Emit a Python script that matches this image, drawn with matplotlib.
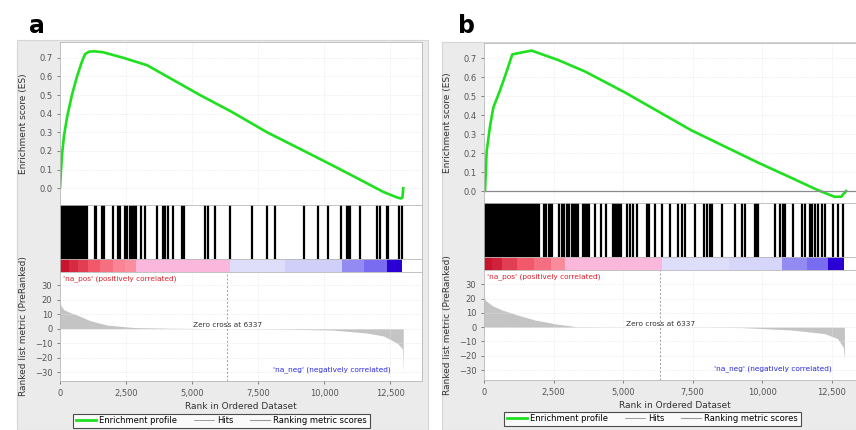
import matplotlib.pyplot as plt
from matplotlib.colors import LinearSegmentedColormap
from matplotlib.lines import Line2D
from matplotlib.patches import Rectangle

# running enrichment score, panel a
es_rank_a = [0, 40, 76, 150, 265, 450, 644, 830, 947, 1100, 1300, 1630, 2400, 3300, 4300, 5300,
             6500, 7840, 9100, 10350, 11300, 12240, 12500, 12770, 12900, 12960, 12990]
es_a = [0.0, 0.1, 0.18, 0.28, 0.38, 0.5, 0.6, 0.68, 0.72, 0.733, 0.735, 0.73, 0.70, 0.66, 0.58,
        0.5, 0.41, 0.3, 0.21, 0.12, 0.05, -0.02, -0.035, -0.05, -0.055, -0.05, 0.0]

# running enrichment score, panel b
es_rank_b = [0, 36, 96, 215, 335, 575, 814, 1017, 1352, 1710, 2670, 3630, 5060, 7455,
             9850, 11045, 12000, 12600, 12840, 13020]
es_b = [0.0, 0.0, 0.21, 0.34, 0.44, 0.53, 0.63, 0.72, 0.73, 0.74, 0.69, 0.63, 0.52, 0.32,
        0.15, 0.07, 0.005, -0.03, -0.03, 0.0]

# gene set members in the ranked list
hits_a = [0, 60, 120, 180, 240, 300, 360, 420, 480, 540, 600, 660, 720, 780, 840, 900, 960, 1030,
          1314, 1377, 1605, 1668, 2009, 2198, 2261, 2450, 2552, 2640, 2729, 2805, 2893, 3082,
          3234, 3689, 3903, 3992, 4093, 4282, 4623, 4686, 5482, 5583, 5861, 6429, 7250, 7819,
          8135, 9248, 9779, 10133, 10638, 10853, 10916, 10979, 11358, 11990, 12117, 12370,
          12432, 12811, 12962]
hits_b = [50, 110, 170, 230, 290, 350, 410, 470, 530, 590, 650, 710, 770, 830, 890, 950, 1010,
          1065, 1130, 1200, 1270, 1340, 1385, 1460, 1530, 1600, 1670, 1740, 1780, 1880, 1930,
          1987, 2150, 2220, 2330, 2400, 2460, 2690, 2790, 2861, 2990, 3060, 3160, 3230, 3300,
          3380, 3550, 3620, 3700, 3782, 3998, 4213, 4381, 4640, 4710, 4780, 4850, 4920, 5140,
          5250, 5374, 5500, 5853, 5949, 6152, 6392, 6691, 6990, 7110, 7230, 7589, 7924, 8008,
          8128, 8187, 8546, 9025, 9265, 9384, 9750, 9800, 9860, 10462, 10641, 10761, 10821,
          11120, 11419, 11539, 11719, 11778, 11898, 12018, 12137, 12257, 12556, 12735, 12915]

# heat bar under the hits: block edges (rank) and block levels (-1..1)
bar_edges_a = [0, 350, 700, 1060, 1500, 2000, 2450, 2890, 6430, 8500, 10660, 11500, 12360, 12960]
bar_levels_a = [1.0, 0.92, 0.85, 0.75, 0.68, 0.62, 0.58, 0.3, -0.2, -0.28, -0.55, -0.65, -1.0]
bar_edges_b = [0, 300, 650, 1200, 1800, 2400, 2920, 6390, 8800, 10700, 11600, 12380, 12950]
bar_levels_b = [1.0, 0.95, 0.85, 0.75, 0.68, 0.6, 0.3, -0.2, -0.25, -0.55, -0.65, -1.0]

# ranked list metric
metric_rank_a = [0, 30, 150, 400, 700, 1140, 1780, 2780, 4200, 6337, 8500, 10350, 11620,
                 12240, 12770, 12960, 12990]
metric_a = [19, 16, 13, 11, 9, 5.5, 2.5, 0.8, 0.3, 0, -0.3, -1, -3, -5, -10, -14, -30]
metric_rank_b = [0, 40, 300, 650, 1220, 1830, 2660, 3240, 3300, 6337, 9260, 11060, 12240,
                 12710, 12920, 12960]
metric_b = [24, 19, 15, 12, 8.4, 5, 2, 0.6, 0.3, 0, -0.3, -2, -4.5, -8, -14, -23]

zero_cross = 6337
x_ticks = [0, 2500, 5000, 7500, 10000, 12500]
es_ticks = [0.0, 0.1, 0.2, 0.3, 0.4, 0.5, 0.6, 0.7]
metric_ticks = [-30, -20, -10, 0, 10, 20, 30]

heat = LinearSegmentedColormap.from_list('heat', [
    (0.0, '#2a00d4'), (0.175, '#7a6ef0'), (0.225, '#958cf2'), (0.375, '#d6d6fa'),
    (0.5, '#ffffff'), (0.65, '#fbb8dc'), (0.8, '#f98c9c'), (0.875, '#f25a6c'),
    (1.0, '#c8142e')])

W, H = 856, 430
fig = plt.figure(figsize=(W / 100, H / 100), dpi=100)
fig.patch.set_facecolor('white')


def box(x0, y0, x1, y1):
    # pixel box (top-left origin) -> figure rect
    return [x0 / W, 1 - y1 / H, (x1 - x0) / W, (y1 - y0) / H]


def style(ax):
    for s in ax.spines.values():
        s.set_color('#b8b8b8')
        s.set_linewidth(0.6)
    ax.tick_params(labelsize=6, colors='#555555', length=2, width=0.5)


def panel(label, frame, x0, x1, ys, es_rank, es, hits, edges, levels, m_rank, m_val,
          es_lim, m_lim, es_zero_line, legend_box, label_x):
    fig.add_artist(Rectangle((frame[0] / W, 1 - frame[3] / H),
                             (frame[2] - frame[0]) / W, (frame[3] - frame[1]) / H,
                             transform=fig.transFigure, facecolor='#ebebeb',
                             edgecolor='#d6d6d6', linewidth=0.8, zorder=0))
    fig.text(label_x / W, 1 - 33 / H, label, fontsize=17, fontweight='bold', ha='left',
             va='baseline')

    y_es, y_hits, y_bar, y_m0, y_m1 = ys
    ax_es = fig.add_axes(box(x0, y_es, x1, y_hits))
    ax_hit = fig.add_axes(box(x0, y_hits, x1, y_bar))
    ax_bar = fig.add_axes(box(x0, y_bar, x1, y_m0))
    ax_m = fig.add_axes(box(x0, y_m0, x1, y_m1))

    # enrichment profile
    ax_es.plot(es_rank, es, color='#1ee01e', lw=1.9)
    if es_zero_line:
        ax_es.axhline(0, color='#8a8a8a', lw=0.9)
    ax_es.set_xlim(0, 13700)
    ax_es.set_ylim(*es_lim)
    ax_es.set_yticks(es_ticks)
    ax_es.set_yticklabels([f'{t:.1f}' for t in es_ticks])
    ax_es.set_xticks(x_ticks)
    ax_es.tick_params(labelbottom=False)
    ax_es.grid(True, color='#e4e4e4', lw=0.6, ls=':')
    ax_es.set_ylabel('Enrichment score (ES)', fontsize=6.5, color='#333333', labelpad=8)
    style(ax_es)

    # hits
    ax_hit.vlines(hits, 0, 1, color='black', lw=1.6)
    ax_hit.set_xlim(0, 13700)
    ax_hit.set_ylim(0, 1)
    ax_hit.set_xticks([])
    ax_hit.set_yticks([])
    style(ax_hit)

    # heat bar
    ax_bar.pcolormesh(edges, [0, 1], [levels], cmap=heat, vmin=-1, vmax=1)
    ax_bar.set_xlim(0, 13700)
    ax_bar.set_xticks([])
    ax_bar.set_yticks([])
    style(ax_bar)

    # ranked list metric
    ax_m.fill_between(m_rank, 0, m_val, color='#c4c4c4', lw=0)
    ax_m.axvline(zero_cross, color='#9a9a9a', lw=0.7, ls=(0, (2, 2)))
    ax_m.set_xlim(0, 13700)
    ax_m.set_ylim(*m_lim)
    ax_m.set_yticks(metric_ticks)
    ax_m.set_xticks(x_ticks)
    ax_m.set_xticklabels([f'{t:,}' for t in x_ticks])
    ax_m.grid(True, color='#e4e4e4', lw=0.6, ls=':')
    ax_m.set_xlabel('Rank in Ordered Dataset', fontsize=6.5, color='#333333', labelpad=3)
    ax_m.set_ylabel('Ranked list metric (PreRanked)', fontsize=6.5, color='#333333',
                    labelpad=5)
    ax_m.text(120, m_lim[1] - 4.5, "'na_pos' (positively correlated)", color='#e0202a',
              fontsize=5.3, va='center')
    ax_m.text(zero_cross, 0.4, f'Zero cross at {zero_cross}', color='#333333', fontsize=5.3,
              ha='center', va='bottom')
    ax_m.text(12500, m_lim[0] + 8, "'na_neg' (negatively correlated)", color='#2a2ae0',
              fontsize=5.3, ha='right', va='center')
    style(ax_m)

    handles = [Line2D([], [], color='#1ee01e', lw=2),
               Line2D([], [], color='#777777', lw=0.5),
               Line2D([], [], color='#999999', lw=0.8)]
    leg = fig.legend(handles, ['Enrichment profile', 'Hits', 'Ranking metric scores'],
                     loc='center', bbox_to_anchor=legend_box, ncol=3, fontsize=6,
                     frameon=True, fancybox=False, edgecolor='#222222', borderpad=0.3,
                     handlelength=2.4, columnspacing=2.0, handletextpad=0.4)
    leg.get_frame().set_linewidth(0.8)


panel('a', (17, 40, 428, 430), 60, 422, (42, 205, 259, 272, 381),
      es_rank_a, es_a, hits_a, bar_edges_a, bar_levels_a, metric_rank_a, metric_a,
      (-0.09, 0.785), (-36, 39), False, (221.5 / W, 1 - 420.5 / H), 29)
panel('b', (442, 42, 866, 430), 484, 865, (43, 203, 257, 270, 380),
      es_rank_b, es_b, hits_b, bar_edges_b, bar_levels_b, metric_rank_b, metric_b,
      (-0.063, 0.78), (-37, 40), True, (652.5 / W, 1 - 418.5 / H), 458)

fig.savefig('out.png', dpi=100)
